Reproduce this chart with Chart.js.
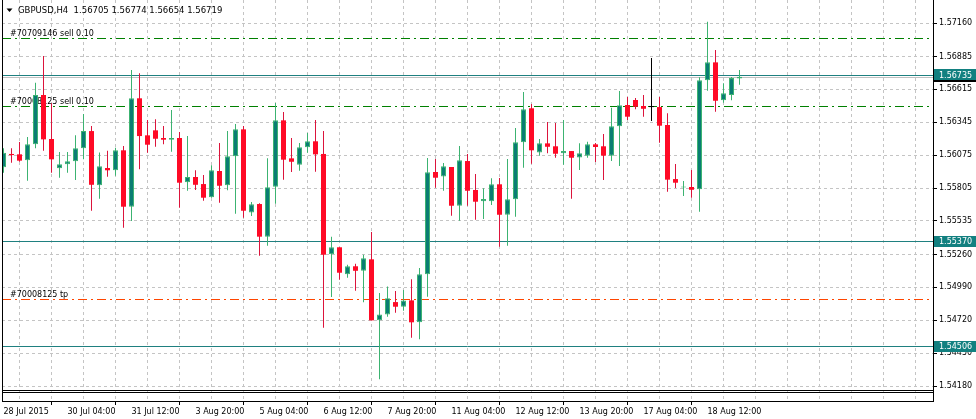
<!DOCTYPE html>
<html><head><meta charset="utf-8">
<script src="https://cdn.jsdelivr.net/npm/chart.js@4.4.1/dist/chart.umd.min.js"></script>
<style>html,body{margin:0;padding:0;background:#fff;}canvas{display:block;}</style>
</head><body>
<canvas id="c" width="976" height="419" style="width:976px;height:419px"></canvas>
<script>
// ---------- data ----------
const symbolTitle = 'GBPUSD,H4';
const xTickLabels = ['28 Jul 2015','30 Jul 04:00','31 Jul 12:00','3 Aug 20:00','5 Aug 04:00','6 Aug 12:00',
  '7 Aug 20:00','11 Aug 04:00','12 Aug 12:00','13 Aug 20:00','17 Aug 04:00','18 Aug 12:00'];
const yTickValues = [1.57160,1.56885,1.56615,1.56345,1.56075,1.55805,1.55535,1.55260,1.54990,1.54720,1.54450,1.54180];

const openV = [1.55975,1.56085,1.56082,1.56033,1.56164,1.56569,1.56208,1.55967,1.56000,1.56025,
1.56131,1.56273,1.55828,1.55970,1.55951,1.56115,1.55652,1.56542,1.56238,1.56279,
1.56216,1.56202,1.56216,1.55852,1.55896,1.55838,1.55729,1.55945,1.55828,1.56066,
1.56287,1.55604,1.55674,1.55406,1.55816,1.56361,1.56049,1.55997,1.56140,1.56189,
1.56085,1.55261,1.55319,1.55097,1.55163,1.55126,1.55220,1.54719,1.54768,1.54869,
1.54831,1.54883,1.54703,1.55097,1.55937,1.55901,1.55978,1.55660,1.56027,1.55789,
1.55696,1.55696,1.55836,1.55586,1.55713,1.56181,1.56460,1.56098,1.56172,1.56148,
1.56090,1.56109,1.56057,1.56071,1.56164,1.56148,1.56071,1.56312,1.56487,1.56528,
1.56479,1.56470,1.56470,1.56323,1.55879,1.55809,1.55814,1.55795,1.56690,1.56837,
1.56525,1.56569,1.56705];
const highV = [1.56131,1.56131,1.56183,1.56224,1.56670,1.56889,1.56501,1.56101,1.56101,1.56238,
1.56413,1.56314,1.56098,1.56112,1.56136,1.56150,1.56774,1.56747,1.56364,1.56369,
1.56314,1.56446,1.56265,1.56232,1.55951,1.55912,1.55992,1.56175,1.56273,1.56331,
1.56314,1.55690,1.55680,1.56049,1.56503,1.56429,1.56216,1.56175,1.56257,1.56364,
1.56273,1.55406,1.55319,1.55176,1.55184,1.55258,1.55444,1.54943,1.54998,1.54960,
1.54968,1.55056,1.55149,1.56052,1.56043,1.56011,1.55978,1.56150,1.56085,1.55920,
1.55803,1.55885,1.55887,1.56043,1.56298,1.56594,1.56495,1.56208,1.56347,1.56339,
1.56364,1.56109,1.56172,1.56186,1.56175,1.56249,1.56465,1.56602,1.56552,1.56544,
1.56569,1.56873,1.56552,1.56419,1.56002,1.55863,1.55953,1.56714,1.57171,1.56938,
1.56665,1.56717,1.56774];
const lowV = [1.55931,1.56013,1.56021,1.55865,1.56131,1.56112,1.55931,1.55890,1.55931,1.55871,
1.56041,1.55619,1.55718,1.55898,1.55906,1.55479,1.55534,1.55959,1.56095,1.56144,
1.56164,1.56103,1.55644,1.55783,1.55789,1.55701,1.55726,1.55685,1.55787,1.55594,
1.55562,1.55575,1.55250,1.55332,1.55677,1.55874,1.55937,1.55947,1.56095,1.55939,
1.54658,1.54910,1.55053,1.55069,1.54962,1.54867,1.54719,1.54235,1.54749,1.54782,
1.54798,1.54576,1.54563,1.54913,1.55808,1.55783,1.55578,1.55537,1.55660,1.55545,
1.55551,1.55666,1.55323,1.55332,1.55570,1.55972,1.56005,1.56071,1.56090,1.56054,
1.55997,1.55718,1.55953,1.56054,1.56019,1.55871,1.56027,1.55986,1.56364,1.56452,
1.56391,1.56355,1.56177,1.55775,1.55805,1.55740,1.55726,1.55611,1.56604,1.56432,
1.56506,1.56525,1.56654];
const closeV = [1.56095,1.56076,1.56030,1.56164,1.56569,1.56205,1.56041,1.56000,1.56025,1.56131,
1.56273,1.55832,1.55984,1.55951,1.56115,1.55652,1.56542,1.56232,1.56161,1.56210,
1.56202,1.56216,1.55849,1.55896,1.55832,1.55726,1.55951,1.55824,1.56066,1.56287,
1.55619,1.55672,1.55406,1.55811,1.56361,1.56038,1.56021,1.56140,1.56189,1.56082,
1.55258,1.55319,1.55110,1.55163,1.55126,1.55228,1.54719,1.54768,1.54900,1.54831,
1.54883,1.54703,1.55097,1.55934,1.55890,1.55984,1.55660,1.56033,1.55783,1.55693,
1.55715,1.55836,1.55586,1.55713,1.56181,1.56452,1.56115,1.56172,1.56144,1.56087,
1.56109,1.56054,1.56090,1.56164,1.56142,1.56071,1.56312,1.56484,1.56391,1.56473,
1.56456,1.56470,1.56317,1.55874,1.55849,1.55813,1.55791,1.56690,1.56837,1.56522,
1.56583,1.56708,1.56719];

// order / level lines
const orderLabels = ['#70709146 sell 0.10', '#70008125 sell 0.10', '#70008125 tp'];
const orderPrices = [1.57040, 1.56477, 1.54892];
const levelPrices = [1.56735, 1.55370, 1.54506];

// visible ranges
const yMin = 1.54057, yMax = 1.57349;
const xMin = -0.1875, xMax = 116.1875;

// ---------- styles ----------
const TEAL_BODY = '#0a7d73', BULL_LINE = '#3cb371', RED_BODY = '#ff0a26', BEAR_LINE = '#dc143c';
const GRID = '#c4c4c4', LEVEL = '#1f8080', BOX = '#128080';
const FONT = '"DejaVu Sans", sans-serif';
const last = closeV.length - 1;

const idx = openV.map((_, i) => i);
const kind = idx.map(i => closeV[i] > openV[i] ? 1 : (closeV[i] < openV[i] ? -1 : 0));

const overlay = {
  id: 'overlay',
  beforeDatasetsDraw(chart) {
    const {ctx, chartArea: a, scales: {y}} = chart;
    ctx.save();
    ctx.lineWidth = 1;
    // bid line
    let py = Math.round(y.getPixelForValue(closeV[last])) + 0.5;
    ctx.strokeStyle = '#c0c0c0';
    ctx.beginPath(); ctx.moveTo(a.left, py); ctx.lineTo(a.right, py); ctx.stroke();
    // level lines
    ctx.strokeStyle = LEVEL;
    levelPrices.forEach(p => {
      const ly = Math.round(y.getPixelForValue(p)) + 0.5;
      ctx.beginPath(); ctx.moveTo(a.left, ly); ctx.lineTo(a.right, ly); ctx.stroke();
    });
    // order lines
    ctx.font = '8px ' + FONT;
    ctx.textBaseline = 'alphabetic';
    ctx.textAlign = 'left';
    orderPrices.forEach((p, i) => {
      const oy = Math.round(y.getPixelForValue(p)) + 0.5;
      ctx.strokeStyle = i < 2 ? '#008000' : '#ff4500';
      ctx.setLineDash([9, 4, 2, 4]);
      ctx.beginPath(); ctx.moveTo(a.left, oy); ctx.lineTo(a.right, oy); ctx.stroke();
      ctx.setLineDash([]);
      ctx.fillStyle = '#000';
      ctx.fillText(orderLabels[i], 10, oy - 2.5);
    });
    ctx.restore();
  },
  afterDraw(chart) {
    const {ctx, chartArea: a, scales: {y}} = chart;
    ctx.save();
    ctx.lineWidth = 1;
    ctx.strokeStyle = '#000';
    // left frame
    ctx.beginPath(); ctx.moveTo(a.left + 0.5, a.top); ctx.lineTo(a.left + 0.5, a.bottom); ctx.stroke();
    // separator with the sub-window
    ctx.beginPath(); ctx.moveTo(a.left, 390.5); ctx.lineTo(a.right, 390.5); ctx.stroke();
    ctx.beginPath(); ctx.moveTo(a.left, 392.5); ctx.lineTo(a.right, 392.5); ctx.stroke();
    // price boxes
    ctx.font = '8px ' + FONT;
    ctx.textBaseline = 'middle';
    ctx.textAlign = 'left';
    const by = y.getPixelForValue(closeV[last]);
    ctx.fillStyle = '#000';
    ctx.fillRect(a.right, Math.round(by - 5.5), 976 - a.right, 11);
    levelPrices.forEach(p => {
      const ly = y.getPixelForValue(p);
      ctx.fillStyle = BOX;
      ctx.fillRect(a.right + 1, Math.round(ly - 5.5), 976 - a.right - 1, 11);
      ctx.fillStyle = '#fff';
      ctx.fillText(p.toFixed(5), 939, Math.round(ly) + 0.5);
    });
    // title
    ctx.fillStyle = '#000';
    ctx.beginPath(); ctx.moveTo(6.5, 8.5); ctx.lineTo(12.5, 8.5); ctx.lineTo(9.5, 12); ctx.closePath(); ctx.fill();
    ctx.font = '8.5px ' + FONT;
    ctx.textBaseline = 'middle';
    ctx.fillText(symbolTitle + '  ' + [openV[last], highV[last], lowV[last], closeV[last]].map(v => v.toFixed(5)).join(' '), 18, 11);
    ctx.restore();
  }
};

Chart.defaults.font.family = FONT;
Chart.defaults.font.size = 8;
Chart.defaults.color = '#000';

new Chart(document.getElementById('c'), {
  type: 'bar',
  data: {
    datasets: [
      {
        label: 'wick', order: 2, grouped: false,
        data: idx.map(i => ({x: i, y: [lowV[i], highV[i]]})),
        backgroundColor: idx.map(i => kind[i] > 0 ? BULL_LINE : (kind[i] < 0 ? BEAR_LINE : '#000')),
        borderWidth: 0, barThickness: 1, inflateAmount: 0, minBarLength: 1
      },
      {
        label: 'body', order: 1, grouped: false,
        data: idx.map(i => ({x: i, y: [openV[i], closeV[i]]})),
        backgroundColor: idx.map(i => kind[i] > 0 ? TEAL_BODY : (kind[i] < 0 ? RED_BODY : '#000')),
        borderColor: idx.map(i => kind[i] > 0 ? BULL_LINE : (kind[i] < 0 ? RED_BODY : '#000')),
        borderWidth: idx.map(i => kind[i] > 0 ? 1 : 0),
        borderSkipped: false, barThickness: 5, inflateAmount: 0, minBarLength: 1
      }
    ]
  },
  options: {
    responsive: false, animation: false, devicePixelRatio: 1,
    layout: {padding: {left: 2, top: 0, right: 0, bottom: 0}},
    plugins: {legend: {display: false}, tooltip: {enabled: false}, title: {display: false}},
    scales: {
      x: {
        type: 'linear', position: 'bottom', min: xMin, max: xMax, offset: false,
        afterBuildTicks: s => { const t = []; for (let v = 0; v <= xMax; v += 4) t.push({value: v}); s.ticks = t; },
        afterFit: s => { s.height = 18; s.paddingLeft = 0; s.paddingRight = 0; },
        ticks: {
          autoSkip: false, maxRotation: 0, minRotation: 0, align: 'start', padding: 2, color: '#000',
          callback: v => (v % 8 === 0 && v / 8 < xTickLabels.length) ? xTickLabels[v / 8] : ''
        },
        grid: {
          color: c => (c.tick && c.tick.value === 0) ? 'rgba(0,0,0,0)' : GRID,
          lineWidth: 1, tickLength: 4, tickBorderDash: [],
          tickColor: c => (c.tick && c.tick.value % 8 === 0 && c.tick.value / 8 < xTickLabels.length) ? '#000' : 'rgba(0,0,0,0)'
        },
        border: {display: true, color: '#000', width: 1, dash: [3, 3]}
      },
      y: {
        type: 'linear', position: 'right', min: yMin, max: yMax,
        afterBuildTicks: s => { s.ticks = yTickValues.map(v => ({value: v})); },
        afterFit: s => { s.width = 43; s.paddingTop = 0; s.paddingBottom = 0; },
        ticks: {autoSkip: false, padding: 2, color: '#000', callback: v => Number(v).toFixed(5)},
        grid: {color: GRID, lineWidth: 1, tickLength: 4, tickColor: '#000', tickBorderDash: []},
        border: {display: true, color: '#000', width: 1, dash: [3, 3]}
      }
    }
  },
  plugins: [overlay]
});
</script>
</body></html>
